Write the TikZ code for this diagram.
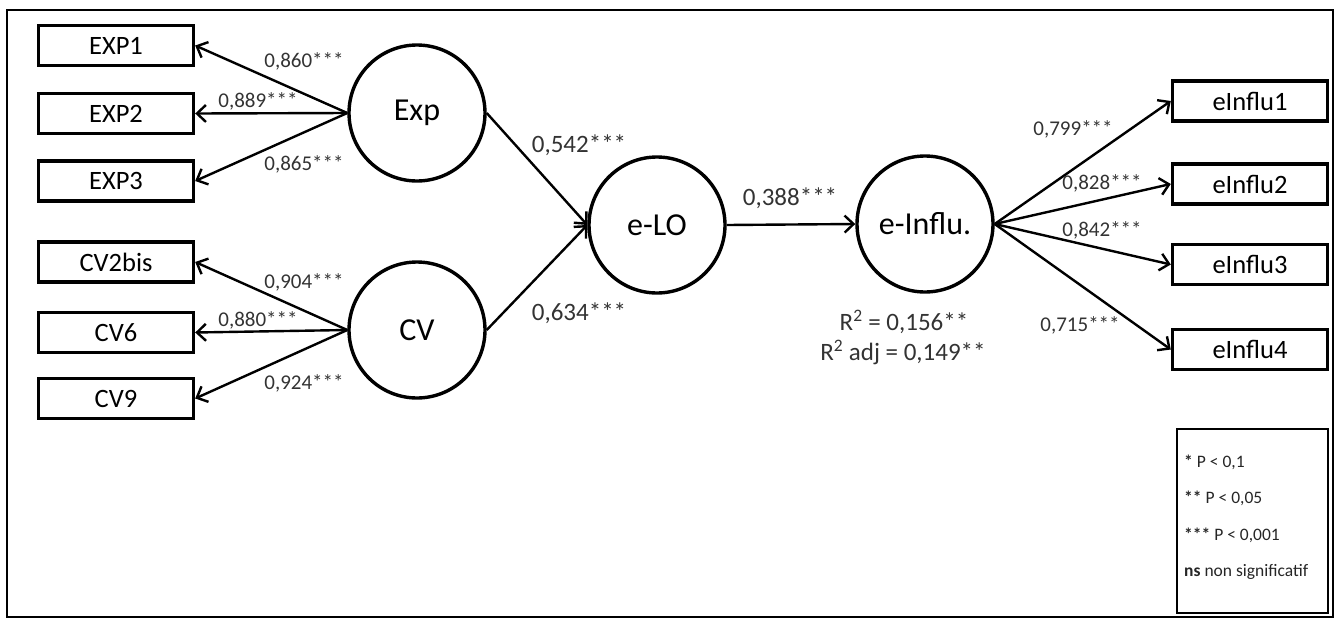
\documentclass[tikz,border=0pt]{standalone}
\usepackage{fontspec}
\setmainfont{Carlito}
\usetikzlibrary{arrows.meta}
\begin{document}
\begin{tikzpicture}[x=1pt,y=-1pt,
  ind/.style={draw, line width=3.4pt, minimum width=155pt, minimum height=40pt, inner sep=0pt, font=\fontsize{26.5}{29}\selectfont},
  lat/.style={draw, circle, line width=3.4pt, minimum size=136pt, inner sep=0pt, font=\fontsize{32}{36}\selectfont},
  arr/.style={-{Straight Barb[length=9pt,width=17pt]}, line width=2.4pt},
  load/.style={font=\fontsize{21}{24}\selectfont, inner sep=0pt, text=black!80},
  coef/.style={font=\fontsize{25}{28}\selectfont, inner sep=0pt, text=black!80},
  leg/.style={font=\fontsize{17.5}{20}\selectfont, inner sep=0pt, anchor=west, text=black!85}]
\useasboundingbox (0,0) rectangle (1339,619);
\draw[line width=1.6pt] (7,10) rectangle (1333,617);
% indicators
\node[ind] (EXP1) at (116,45.5) {EXP1};
\node[ind] (EXP2) at (116,113.5) {EXP2};
\node[ind] (EXP3) at (116,181) {EXP3};
\node[ind] (CV2bis) at (116,262) {CV2bis};
\node[ind] (CV6) at (116,332.5) {CV6};
\node[ind] (CV9) at (116,398.5) {CV9};
\node[ind] (EI1) at (1250,101) {eInflu1};
\node[ind] (EI2) at (1250,184) {eInflu2};
\node[ind] (EI3) at (1250,264.5) {eInflu3};
\node[ind] (EI4) at (1250,349.5) {eInflu4};
% latent
\node[lat] (Exp) at (417,113) {Exp};
\node[lat] (CV) at (417,330) {CV};
\node[lat] (eLO) at (657,225) {e-LO};
\node[lat] (eInflu) at (925,224) {e-Influ.};
% arrows
\draw[arr] (Exp.west) -- (EXP1.east);
\draw[arr] (Exp.west) -- (EXP2.east);
\draw[arr] (Exp.west) -- (EXP3.east);
\draw[arr] (CV.west) -- (CV2bis.east);
\draw[arr] (CV.west) -- (CV6.east);
\draw[arr] (CV.west) -- (CV9.east);
\draw[arr] (Exp.east) -- (eLO.west);
\draw[arr] (CV.east) -- (eLO.west);
\draw[arr] (eLO.east) -- (eInflu.west);
\draw[arr] (eInflu.east) -- (EI1.west);
\draw[arr] (eInflu.east) -- (EI2.west);
\draw[arr] (eInflu.east) -- (EI3.west);
\draw[arr] (eInflu.east) -- (EI4.west);
% labels
\node[load] (l1) at (304,61) {0,860***};
\node[load] (l2) at (258,101) {0,889***};
\node[load] (l3) at (304,164) {0,865***};
\node[load] (l4) at (304,282) {0,904***};
\node[load] (l5) at (258,320) {0,880***};
\node[load] (l6) at (304,383) {0,924***};
\node[coef] (c1) at (579,145) {0,542***};
\node[coef] (c2) at (579,313) {0,634***};
\node[coef] (c3) at (790,198) {0,388***};
\node[load] (r1) at (1073,129) {0,799***};
\node[load] (r2) at (1102,183) {0,828***};
\node[load] (r3) at (1102,230) {0,842***};
\node[load] (r4) at (1080,325) {0,715***};
\node[coef] (rsq) at (904,322) {R\textsuperscript{2} = 0,156**};
\node[coef] (rsqa) at (903,352) {R\textsuperscript{2} adj = 0,149**};
% legend
\node[draw, line width=1.3pt, minimum width=151pt, minimum height=184pt, inner sep=0pt] (legend) at (1252.5,521) {};
\node[leg] (g1) at (1184,462) {\textbf{*} P < 0,1};
\node[leg] (g2) at (1184,498) {\textbf{**} P < 0,05};
\node[leg] (g3) at (1184,535) {\textbf{***} P < 0,001};
\node[leg] (g4) at (1184,572) {\textbf{ns} non significatif};
\end{tikzpicture}
\end{document}
